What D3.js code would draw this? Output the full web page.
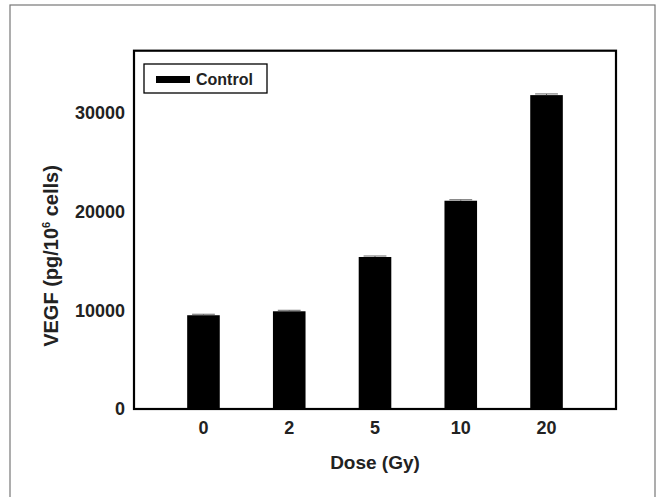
<!DOCTYPE html>
<html><head><meta charset="utf-8">
<script src="https://cdn.jsdelivr.net/npm/d3@7"></script>
<style>
body{margin:0;background:#fff;}
text{font-family:"Liberation Sans",Arial,Helvetica,sans-serif;font-weight:bold;fill:#222;}
</style></head>
<body>
<svg id="chart" width="657" height="497"></svg>
<script>
const categories = ["0", "2", "5", "10", "20"];
const values = [9500, 9900, 15400, 21100, 31800];
const errors = [100, 100, 100, 100, 120];
const yTicks = [0, 10000, 20000, 30000];
const seriesName = "Control";

const svg = d3.select("#chart");
const m = {left:134, right:616, top:50.7, bottom:409};

// outer frame
svg.append("rect").attr("x",10).attr("y",5).attr("width",645).attr("height",500)
  .attr("fill","none").attr("stroke","#777").attr("stroke-width",1.2);

const x = d3.scaleBand().domain(categories).range([m.left, m.right])
  .paddingInner(0.62).paddingOuter(0.62);
const y = d3.scaleLinear().domain([0, 36300]).range([m.bottom, m.top]);

// bars
svg.append("g").selectAll("rect").data(values).join("rect")
  .attr("x",(d,i)=>x(categories[i]))
  .attr("y",d=>y(d))
  .attr("width",x.bandwidth())
  .attr("height",d=>y(0)-y(d))
  .attr("fill","#000");

// error caps
const eg = svg.append("g");
values.forEach((v,i)=>{
  const cx = x(categories[i]) + x.bandwidth()/2;
  eg.append("line").attr("x1",cx).attr("x2",cx).attr("y1",y(v)).attr("y2",y(v+errors[i]))
    .attr("stroke","#555").attr("stroke-width",1);
  eg.append("line").attr("x1",cx-x.bandwidth()*0.35).attr("x2",cx+x.bandwidth()*0.35)
    .attr("y1",y(v+errors[i])).attr("y2",y(v+errors[i]))
    .attr("stroke","#666").attr("stroke-width",1);
});

// axes (labels only, no tick marks)
const yAxis = d3.axisLeft(y).tickValues(yTicks).tickSize(0).tickPadding(9).tickFormat(d3.format("d"));
const gy = svg.append("g").attr("transform",`translate(${m.left},0)`).call(yAxis);
gy.select(".domain").remove();
gy.selectAll("text").style("font-size","18px").style("font-family","'Liberation Sans',Arial,sans-serif").style("font-weight","bold").attr("fill","#222");

const xAxis = d3.axisBottom(x).tickSize(0).tickPadding(12);
const gx = svg.append("g").attr("transform",`translate(0,${m.bottom})`).call(xAxis);
gx.select(".domain").remove();
gx.selectAll("text").style("font-size","18px").style("font-family","'Liberation Sans',Arial,sans-serif").style("font-weight","bold").attr("fill","#222");

// plot box
svg.append("rect").attr("x",m.left).attr("y",m.top)
  .attr("width",m.right-m.left).attr("height",m.bottom-m.top)
  .attr("fill","none").attr("stroke","#000").attr("stroke-width",2.2);

// axis titles
svg.append("text").attr("x",(m.left+m.right)/2).attr("y",469)
  .attr("text-anchor","middle").style("font-size","19px").text("Dose (Gy)");

const yt = svg.append("text").attr("transform","translate(58,256) rotate(-90)")
  .attr("text-anchor","middle").style("font-size","20px");
yt.append("tspan").text("VEGF (pg/10");
yt.append("tspan").attr("dy",-8).style("font-size","11px").text("6");
yt.append("tspan").attr("dy",8).text(" cells)");

// legend
const lg = svg.append("g");
lg.append("rect").attr("x",144).attr("y",64).attr("width",123).attr("height",29)
  .attr("fill","#fff").attr("stroke","#000").attr("stroke-width",1.3);
lg.append("rect").attr("x",156).attr("y",76).attr("width",34).attr("height",7).attr("fill","#000");
lg.append("text").attr("x",196).attr("y",85).style("font-size","16px").text(seriesName);
</script>
</body></html>
